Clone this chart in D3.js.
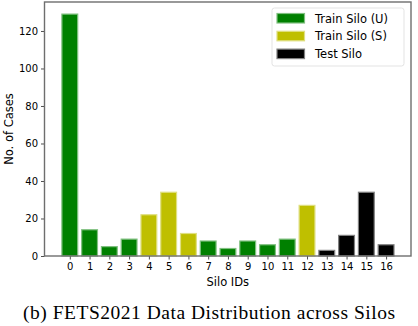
<!DOCTYPE html>
<html>
<head>
<meta charset="utf-8">
<script src="https://cdn.jsdelivr.net/npm/d3@7"></script>
<style>
  body { margin: 0; background: #fff; }
  svg { display: block; font-family: "DejaVu Sans", sans-serif; }
</style>
</head>
<body>
<script>
// silo ids, case counts and which group each silo belongs to
var siloIds = [0, 1, 2, 3, 4, 5, 6, 7, 8, 9, 10, 11, 12, 13, 14, 15, 16];
var cases = [129, 14, 5, 9, 22, 34, 12, 8, 4, 8, 6, 9, 27, 3, 11, 34, 6];
var groups = ['U', 'U', 'U', 'U', 'S', 'S', 'S', 'U', 'U', 'U', 'U', 'U', 'S', 'T', 'T', 'T', 'T'];
var yTicks = [0, 20, 40, 60, 80, 100, 120];
var legendNames = ['Train Silo (U)', 'Train Silo (S)', 'Test Silo'];
var legendGroups = ['U', 'S', 'T'];

var fill = { U: '#008000', S: '#bfbf00', T: '#000000' };
var edge = { U: '#80c080', S: '#dfdf80', T: '#808080' };

var width = 418;
var height = 326;
var padding = { top: 2, right: 7, bottom: 70, left: 44.5 };

var svg = d3.select('body')
  .append('svg')
  .attr('width', width)
  .attr('height', height);

var xScale = d3.scaleLinear()
  .domain([-1.28, 17.26])
  .range([padding.left, width - padding.right]);
var yScale = d3.scaleLinear()
  .domain([0, 135.45])
  .range([height - padding.bottom, padding.top]);

var barW = xScale(0.8) - xScale(0);

// bars
svg.append('g')
  .selectAll('rect')
  .data(cases)
  .enter()
  .append('rect')
  .attr('x', function(d, i) { return xScale(siloIds[i] - 0.4); })
  .attr('y', function(d) { return yScale(d); })
  .attr('width', barW)
  .attr('height', function(d) { return yScale(0) - yScale(d); })
  .attr('fill', function(d, i) { return fill[groups[i]]; })
  .attr('stroke', function(d, i) { return edge[groups[i]]; })
  .attr('stroke-width', 1.2);

// axes
var xAxis = d3.axisBottom(xScale)
  .tickValues(siloIds)
  .tickFormat(d3.format('d'))
  .tickSizeOuter(0)
  .tickSize(3.5)
  .tickPadding(3);
var yAxis = d3.axisLeft(yScale)
  .tickValues(yTicks)
  .tickSizeOuter(0)
  .tickSize(3.5)
  .tickPadding(3);

var gx = svg.append('g')
  .attr('transform', 'translate(0,' + yScale(0) + ')')
  .call(xAxis);
var gy = svg.append('g')
  .attr('transform', 'translate(' + padding.left + ',0)')
  .call(yAxis);

[gx, gy].forEach(function(g) {
  g.select('.domain').remove();
  g.selectAll('line').attr('stroke', '#222').attr('stroke-width', 0.8);
  g.selectAll('text')
    .attr('fill', '#000')
    .style('font-size', '10px')
    .style('font-family', '"DejaVu Sans", sans-serif');
});

// frame (spines)
svg.append('rect')
  .attr('x', padding.left)
  .attr('y', padding.top)
  .attr('width', width - padding.left - padding.right)
  .attr('height', yScale(0) - padding.top)
  .attr('fill', 'none')
  .attr('stroke', '#6e6e6e')
  .attr('stroke-width', 1.4);

// axis labels
svg.append('text')
  .attr('x', (padding.left + width - padding.right) / 2)
  .attr('y', 286)
  .attr('text-anchor', 'middle')
  .style('font-size', '11.5px')
  .text('Silo IDs');

svg.append('text')
  .attr('transform', 'translate(13,' + (padding.top + yScale(0)) / 2 + ') rotate(-90)')
  .attr('text-anchor', 'middle')
  .style('font-size', '11.5px')
  .text('No. of Cases');

// legend
var lg = svg.append('g').attr('transform', 'translate(272,8)');
lg.append('rect')
  .attr('width', 132)
  .attr('height', 58)
  .attr('rx', 2.5)
  .attr('fill', '#fff')
  .attr('stroke', '#dcdcdc')
  .attr('stroke-width', 0.8);

var items = lg.selectAll('.item')
  .data(legendNames)
  .enter()
  .append('g')
  .attr('class', 'item')
  .attr('transform', function(d, i) { return 'translate(0,' + (10 + i * 17.8) + ')'; });
items.append('rect')
  .attr('x', 5)
  .attr('y', -4.5)
  .attr('width', 27.5)
  .attr('height', 9.5)
  .attr('fill', function(d, i) { return fill[legendGroups[i]]; })
  .attr('stroke', function(d, i) { return edge[legendGroups[i]]; })
  .attr('stroke-width', 1.2);
items.append('text')
  .attr('x', 43)
  .attr('y', 4.5)
  .style('font-size', '11.5px')
  .text(function(d) { return d; });

// caption
svg.append('text')
  .attr('x', 209)
  .attr('y', 319)
  .attr('text-anchor', 'middle')
  .attr('textLength', 372)
  .attr('lengthAdjust', 'spacing')
  .style('font-family', '"Liberation Serif", "Times New Roman", serif')
  .style('font-size', '19.5px')
  .text('(b) FETS2021 Data Distribution across Silos');
</script>
</body>
</html>
